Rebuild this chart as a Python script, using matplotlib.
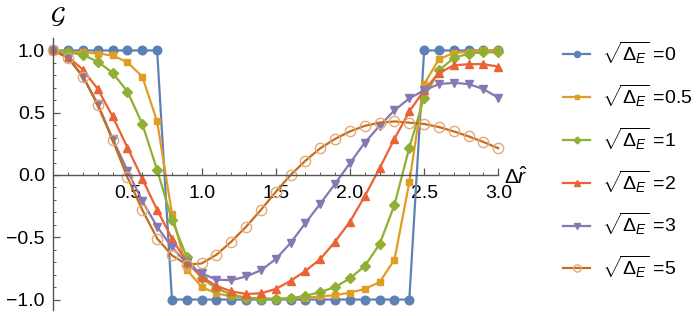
import numpy as np
import matplotlib; matplotlib.use("Agg")
import matplotlib.pyplot as plt
from matplotlib.ticker import FixedLocator, FuncFormatter

plt.rcParams["font.family"] = ["Liberation Sans", "DejaVu Sans"]
plt.rcParams["mathtext.fontset"] = "custom"
plt.rcParams["mathtext.rm"] = "Liberation Sans"
plt.rcParams["mathtext.it"] = "Liberation Sans:italic"

# sample positions (Delta r hat)
dr = [0.0, 0.1, 0.2, 0.3, 0.4, 0.5, 0.6, 0.7, 0.8, 0.9, 1.0,
      1.1, 1.2, 1.3, 1.4, 1.5, 1.6, 1.7, 1.8, 1.9, 2.0,
      2.1, 2.2, 2.3, 2.4, 2.5, 2.6, 2.7, 2.8, 2.9, 3.0]

# G values, one list per sqrt(Delta_E)
g_0 = [1, 1, 1, 1, 1, 1, 1, 1, -1, -1, -1,
       -1, -1, -1, -1, -1, -1, -1, -1, -1, -1,
       -1, -1, -1, -1, 1, 1, 1, 1, 1, 1]
g_05 = [1.0, 0.99, 0.985, 0.975, 0.96, 0.905, 0.79, 0.43, -0.31, -0.76, -0.90,
        -0.95, -0.975, -0.985, -0.99, -0.995, -0.99, -0.985, -0.975, -0.965, -0.945,
        -0.915, -0.86, -0.68, -0.06, 0.73, 0.93, 0.98, 0.99, 1.0, 1.0]
g_1 = [1.0, 0.985, 0.965, 0.91, 0.82, 0.67, 0.41, 0.04, -0.36, -0.66, -0.83,
       -0.91, -0.96, -0.985, -0.995, -0.995, -0.99, -0.97, -0.94, -0.90, -0.83,
       -0.73, -0.555, -0.24, 0.22, 0.62, 0.84, 0.94, 0.975, 0.985, 0.985]
g_2 = [1.0, 0.95, 0.845, 0.69, 0.47, 0.22, -0.03, -0.28, -0.51, -0.70, -0.82,
       -0.89, -0.935, -0.955, -0.95, -0.915, -0.85, -0.77, -0.675, -0.535, -0.375,
       -0.17, 0.055, 0.29, 0.51, 0.68, 0.82, 0.88, 0.89, 0.89, 0.87]
g_3 = [1.0, 0.94, 0.79, 0.57, 0.29, 0.035, -0.21, -0.415, -0.58, -0.71, -0.79,
       -0.84, -0.845, -0.815, -0.765, -0.675, -0.545, -0.385, -0.23, -0.07, 0.095,
       0.26, 0.395, 0.52, 0.615, 0.68, 0.73, 0.74, 0.73, 0.69, 0.62]
g_5 = [1.0, 0.94, 0.79, 0.56, 0.28, -0.02, -0.28, -0.51, -0.645, -0.72, -0.71,
       -0.64, -0.535, -0.415, -0.28, -0.135, 0.0, 0.115, 0.215, 0.29, 0.35,
       0.395, 0.42, 0.43, 0.42, 0.41, 0.385, 0.35, 0.31, 0.265, 0.215]

labels = [r"$\sqrt{\Delta_E}$ =0", r"$\sqrt{\Delta_E}$ =0.5", r"$\sqrt{\Delta_E}$ =1",
          r"$\sqrt{\Delta_E}$ =2", r"$\sqrt{\Delta_E}$ =3", r"$\sqrt{\Delta_E}$ =5"]

styles = [
    dict(color="#5E81B5", marker="o", ms=6.2),
    dict(color="#E19C24", marker="s", ms=4.6),
    dict(color="#8FB032", marker="D", ms=5.0),
    dict(color="#EB6235", marker="^", ms=6.0),
    dict(color="#8778B3", marker="v", ms=6.0),
    dict(color="#C56E1A", marker="o", ms=7.4, mfc="none", mec="#E4A877", mew=1.0),
]

fig = plt.figure(figsize=(7, 3.16), dpi=100)
ax = fig.add_axes([53.3 / 700, 1 - 310 / 316, 445 / 700, (310 - 38) / 316])

handles = []
for g, st in zip([g_0, g_05, g_1, g_2, g_3, g_5], styles):
    h, = ax.plot(dr, g, lw=1.6, clip_on=False, **st)
    handles.append(h)

ax.set_xlim(0, 3.0)
ax.set_ylim(-1.084, 1.100)
for s in ["top", "right"]:
    ax.spines[s].set_visible(False)
ax.spines["left"].set_position(("data", 0))
ax.spines["bottom"].set_position(("data", 0))
for s in ["left", "bottom"]:
    ax.spines[s].set_color("#555555")
    ax.spines[s].set_linewidth(1.0)

ax.xaxis.set_major_locator(FixedLocator([0.5, 1.0, 1.5, 2.0, 2.5, 3.0]))
ax.xaxis.set_minor_locator(FixedLocator(np.arange(0.1, 3.01, 0.1)))
ax.yaxis.set_major_locator(FixedLocator([-1.0, -0.5, 0.0, 0.5, 1.0]))
ax.yaxis.set_minor_locator(FixedLocator(np.arange(-1.0, 1.05, 0.1)))
fmt = FuncFormatter(lambda v, p: f"{v:.1f}".replace("-", "\u2212"))
ax.xaxis.set_major_formatter(fmt)
ax.yaxis.set_major_formatter(fmt)
ax.tick_params(which="major", direction="in", length=5, width=0.9, color="#555555",
               labelsize=14)
ax.tick_params(which="minor", direction="in", length=2.5, width=0.7, color="#555555")
ax.tick_params(axis="x", which="major", pad=7)
ax.tick_params(axis="y", which="major", pad=6)

fig.text(58 / 700, 1 - 17 / 316, r"$\mathcal{G}$", fontsize=17, ha="center", va="center",
         math_fontfamily="stix")
fig.text(504 / 700, 1 - 177 / 316, r"$\Delta\hat{r}$", fontsize=15, ha="left", va="center")

ax.legend(handles, labels, loc="upper left", bbox_to_anchor=(563 / 700, 1 - 40 / 316),
          bbox_transform=fig.transFigure, frameon=False, fontsize=14, markerscale=0.7,
          handlelength=1.4, handletextpad=0.6, labelspacing=0.85,
          borderpad=0, borderaxespad=0)

fig.savefig("out.png", dpi=100)
